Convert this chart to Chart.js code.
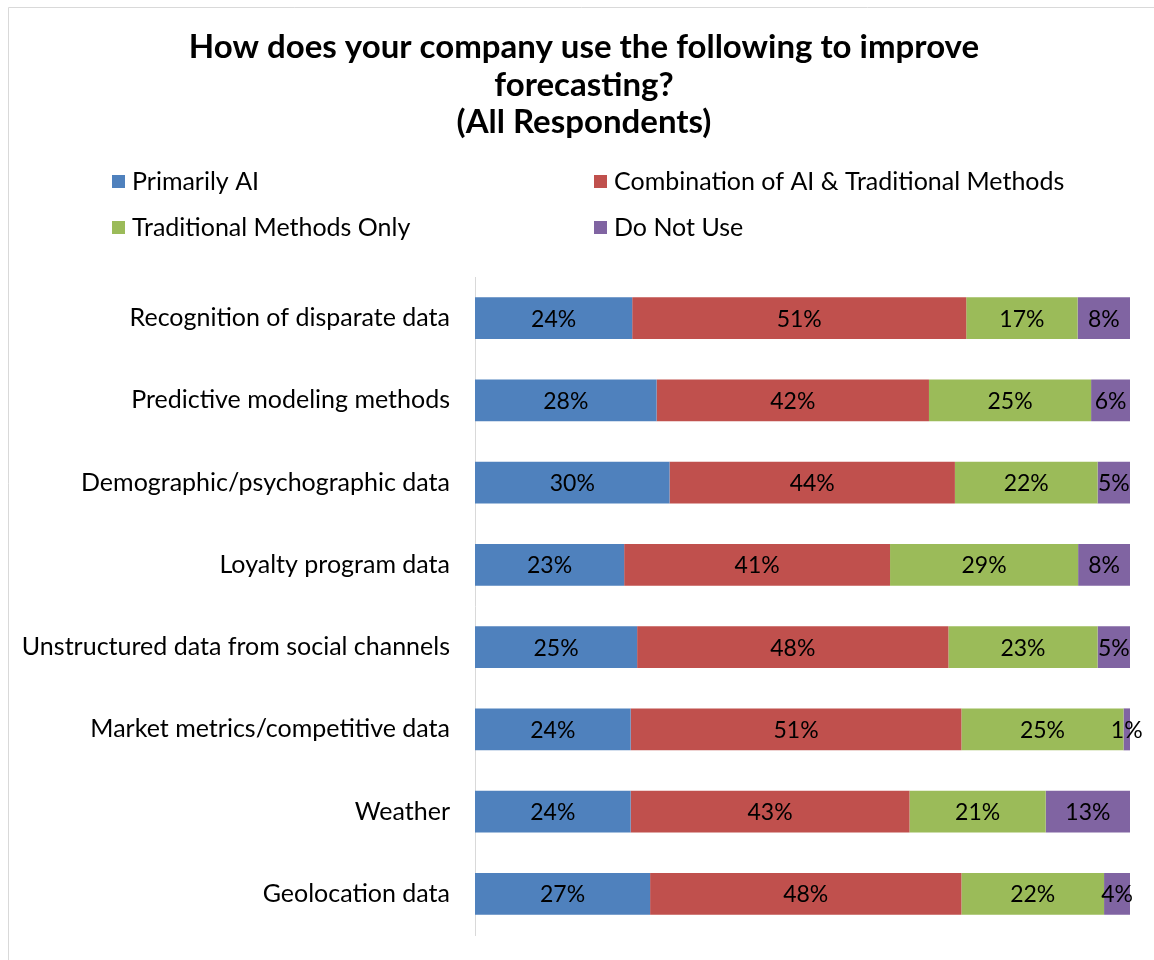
<!DOCTYPE html>
<html>
<head>
<meta charset="utf-8">
<script src="https://cdn.jsdelivr.net/npm/chart.js@4/dist/chart.umd.min.js"></script>
<style>
  html, body { margin: 0; padding: 0; background: #fff; }
  #wrap { position: relative; width: 1154px; height: 960px; }
</style>
</head>
<body>
<div id="wrap"><canvas id="c" width="1154" height="960"></canvas></div>
<script>
const titleLines = ['How does your company use the following to improve', 'forecasting?', '(All Respondents)'];

const categories = [
    'Recognition of disparate data',
    'Predictive modeling methods',
    'Demographic/psychographic data',
    'Loyalty program data',
    'Unstructured data from social channels',
    'Market metrics/competitive data',
    'Weather',
    'Geolocation data'
];

const seriesNames = ['Primarily AI', 'Combination of AI & Traditional Methods', 'Traditional Methods Only', 'Do Not Use'];
const seriesColors = ['#4F81BD', '#C0504D', '#9BBB59', '#8064A2'];

const primarilyAI = [24, 28, 30, 23, 25, 24, 24, 27];
const combination = [51, 42, 44, 41, 48, 51, 43, 48];
const traditionalOnly = [17, 25, 22, 29, 23, 25, 21, 22];
const doNotUse = [8, 6, 5, 8, 5, 1, 13, 4];

const seriesValues = [primarilyAI, combination, traditionalOnly, doNotUse];
const FONT = 'Lato, "Open Sans", sans-serif';

// 100% stacked: each row scaled to its own total
const rowTotals = categories.map((c, i) => seriesValues.reduce((s, arr) => s + arr[i], 0));

const datasets = seriesValues.map((vals, k) => ({
    label: seriesNames[k],
    data: vals.map((v, i) => v / rowTotals[i] * 100),
    raw: vals,
    backgroundColor: seriesColors[k],
    borderWidth: 0,
    barPercentage: 0.51,
    categoryPercentage: 1.0
}));

const decorPlugin = {
    id: 'decor',
    beforeDraw: chart => {
        const ctx = chart.ctx;
        ctx.save();
        ctx.strokeStyle = '#d9d9d9';
        ctx.lineWidth = 1;
        ctx.beginPath();
        ctx.moveTo(8.5, 960);
        ctx.lineTo(8.5, 7.5);
        ctx.lineTo(1154, 7.5);
        ctx.stroke();
        ctx.restore();
    },
    afterDraw: chart => {
        const ctx = chart.ctx;
        ctx.save();
        // title
        ctx.fillStyle = '#000';
        ctx.textAlign = 'center';
        ctx.textBaseline = 'middle';
        ctx.font = 'bold 33px ' + FONT;
        const ty = [47, 85, 122];
        titleLines.forEach((t, i) => ctx.fillText(t, 584, ty[i]));

        // legend, two columns
        const lx = [112, 594];
        const ly = [181, 227];
        ctx.font = '25px ' + FONT;
        ctx.textAlign = 'left';
        chart.data.datasets.forEach((ds, k) => {
            const x = lx[k % 2];
            const y = ly[Math.floor(k / 2)];
            ctx.fillStyle = ds.backgroundColor;
            ctx.fillRect(x, y - 6, 13, 13);
            ctx.fillStyle = '#000';
            ctx.fillText(ds.label, x + 20, y + 1);
        });

        // value labels
        ctx.font = '23px ' + FONT;
        ctx.textAlign = 'center';
        chart.data.datasets.forEach((ds, k) => {
            const meta = chart.getDatasetMeta(k);
            meta.data.forEach((bar, i) => {
                const cx = (bar.x + bar.base) / 2;
                ctx.fillStyle = '#000';
                ctx.fillText(ds.raw[i] + '%', cx, bar.y + 1);
            });
        });
        ctx.restore();
    }
};

new Chart(document.getElementById('c').getContext('2d'), {
    type: 'bar',
    data: { labels: categories, datasets: datasets },
    options: {
        indexAxis: 'y',
        responsive: false,
        animation: false,
        layout: { padding: { top: 277, right: 24, bottom: 25, left: 0 } },
        plugins: {
            legend: { display: false },
            title: { display: false },
            tooltip: { enabled: false }
        },
        scales: {
            x: {
                stacked: true,
                min: 0,
                max: 100,
                display: false
            },
            y: {
                stacked: true,
                grid: { display: false },
                border: { display: true, color: '#d9d9d9', width: 1 },
                ticks: {
                    color: '#000',
                    padding: 17,
                    font: { family: FONT, size: 25 }
                },
                afterFit: scale => {
                    scale.width = 475;
                    scale.paddingTop = 0;
                    scale.paddingBottom = 0;
                }
            }
        }
    },
    plugins: [decorPlugin]
});
</script>
</body>
</html>
